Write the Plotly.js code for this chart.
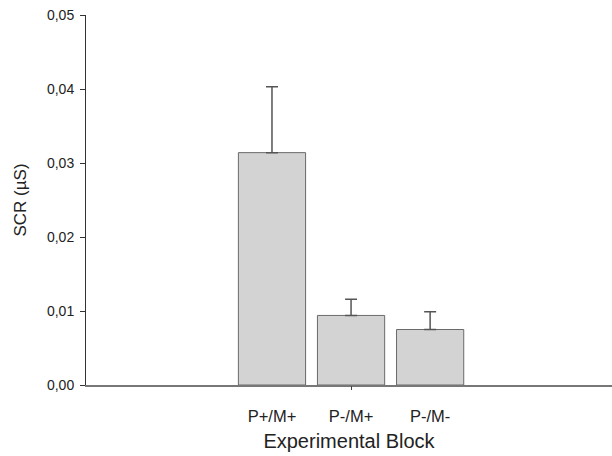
<!DOCTYPE html>
<html>
<head>
<meta charset="utf-8">
<script src="https://cdn.plot.ly/plotly-3.0.1.min.js"></script>
<style>html,body{margin:0;padding:0;background:#fff;}#chart{width:612px;height:456px;}</style>
</head>
<body>
<div id="chart"></div>
<script>
const categories = ["P+/M+", "P-/M+", "P-/M-"];
const positions = [1, 2, 3];
const scrMeans = [0.0314, 0.0094, 0.0075];
const scrErrors = [0.0089, 0.0022, 0.0024];
const yTicks = [0, 0.01, 0.02, 0.03, 0.04, 0.05];

const trace = {
  type: 'bar',
  x: positions,
  y: scrMeans,
  width: 0.85,
  marker: {color: '#d3d3d3', line: {color: '#6a6a6a', width: 1}},
  error_y: {type: 'data', symmetric: false, array: scrErrors, arrayminus: scrErrors.map(() => 0),
            color: '#555555', thickness: 1.5, width: 6},
  hoverinfo: 'none'
};
const tickTrace = {
  type: 'scatter', x: [positions[1]], y: [0], xaxis: 'x2', mode: 'markers',
  marker: {opacity: 0}, hoverinfo: 'none', showlegend: false
};

const layout = {
  width: 612, height: 456,
  margin: {l: 86, r: 0, t: 15, b: 71},
  paper_bgcolor: '#ffffff', plot_bgcolor: '#ffffff',
  separators: ', ',
  showlegend: false,
  font: {family: 'Liberation Sans, Arial, sans-serif', color: '#222222'},
  xaxis: {
    range: [-1.352, 5.3],
    tickvals: positions, ticktext: categories,
    ticks: '', showgrid: false, zeroline: false,
    showline: true, linecolor: '#777777', linewidth: 1.5,
    tickfont: {size: 16.5, color: '#222222'},
    ticklabelstandoff: 16,
    title: {text: 'Experimental Block', font: {size: 20, color: '#222222'}, standoff: 9}
  },
  xaxis2: {
    overlaying: 'x', matches: 'x', anchor: 'y',
    range: [-1.352, 5.3],
    tickvals: [positions[1]], ticks: 'outside', ticklen: 4, tickcolor: '#444444',
    showticklabels: false, showgrid: false, zeroline: false, showline: false
  },
  yaxis: {
    range: [0, 0.05],
    tickvals: yTicks, tickformat: '.2f',
    ticks: 'outside', ticklen: 5, tickcolor: '#333333',
    showgrid: false, zeroline: false,
    showline: true, linecolor: '#333333', linewidth: 1,
    tickfont: {size: 14, color: '#222222'},
    ticklabelstandoff: 3,
    title: {text: 'SCR (µS)', font: {size: 17, color: '#222222'}, standoff: 16}
  }
};

Plotly.newPlot('chart', [trace, tickTrace], layout, {staticPlot: true, displayModeBar: false});
</script>
</body>
</html>
